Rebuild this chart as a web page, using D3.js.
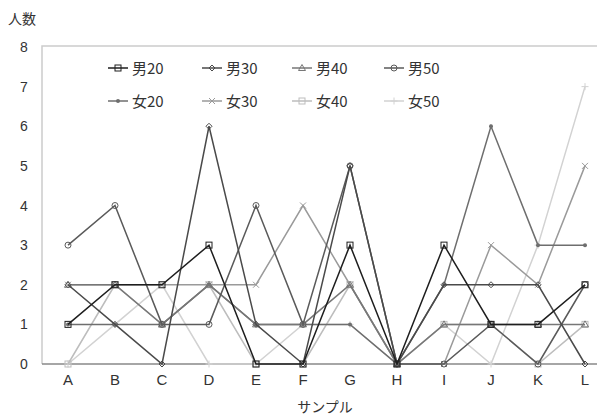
<!DOCTYPE html>
<html>
<head>
<meta charset="utf-8">
<script src="https://cdn.jsdelivr.net/npm/d3@7"></script>
<style>
  body { margin:0; background:#fff; }
  text { font-family: "Liberation Sans", "Noto Sans CJK JP", sans-serif; fill:#333; }
</style>
</head>
<body>
<div class="c_chart"></div>
<script>
/*DATA
------------------------------------------------------
*/
const categories = ["A","B","C","D","E","F","G","H","I","J","K","L"];
const seriesNames = ["男20","男30","男40","男50","女20","女30","女40","女50"];
const male20   = [1,2,2,3,0,0,3,0,3,1,1,2];
const male30   = [2,1,0,6,1,0,5,0,2,2,2,0];
const male40   = [2,2,1,2,1,1,2,0,1,1,1,1];
const male50   = [3,4,1,1,4,1,5,0,0,1,0,2];
const female20 = [1,1,1,2,1,1,1,0,2,6,3,3];
const female30 = [2,2,2,2,2,4,2,0,0,3,2,5];
const female40 = [0,2,1,2,0,0,2,0,1,1,0,1];
const female50 = [0,1,2,0,0,1,1,0,1,0,3,7];
const yTicks = [0,1,2,3,4,5,6,7,8];

const seriesValues = [male20, male30, male40, male50, female20, female30, female40, female50];
const colors = ["#1e1e1e","#4a4a4a","#777","#5a5a5a","#6e6e6e","#9a9a9a","#bdbdbd","#d2d2d2"];
const markers = ["square","diamond","triangle","circle","dot","cross","square","plus"];

/*DIMENSIONS
------------------------------------------------------
*/
const width = 597, height = 416;

const svg = d3.select(".c_chart").append("svg")
	.attr("width", width)
	.attr("height", height);

const x = d3.scalePoint().domain(categories).range([68, 585]);
const y = d3.scaleLinear().domain([0, 8]).range([364, 47]);

/*FRAME & AXES
------------------------------------------------------
*/
svg.append("path")
	.attr("d", "M42,364 V46 H597")
	.attr("fill", "none")
	.attr("stroke", "#ccc")
	.attr("stroke-width", 1.5);

svg.append("line")
	.attr("x1", 42).attr("x2", 597)
	.attr("y1", y(0)).attr("y2", y(0))
	.attr("stroke", "#888")
	.attr("stroke-width", 1.5);

svg.selectAll(".ytick")
	.data(yTicks)
	.enter()
	.append("text")
	.attr("class", "ytick")
	.attr("x", 24)
	.attr("y", d => y(d) + 5)
	.attr("text-anchor", "middle")
	.attr("font-size", 14)
	.text(d => d);

svg.selectAll(".xtick")
	.data(categories)
	.enter()
	.append("text")
	.attr("class", "xtick")
	.attr("x", d => x(d))
	.attr("y", 385)
	.attr("text-anchor", "middle")
	.attr("font-size", 15)
	.text(d => d);

svg.append("text")
	.attr("x", 8).attr("y", 24)
	.attr("font-size", 14)
	.style("font-family", "'Noto Sans CJK JP'")
	.text("人数");

svg.append("text")
	.attr("x", 325).attr("y", 412)
	.attr("text-anchor", "middle")
	.attr("font-size", 14)
	.style("font-family", "'Noto Sans CJK JP'")
	.text("サンプル");

/*MARKERS
------------------------------------------------------
*/
function drawMarker(g, type, cx, cy, color) {
	if (type === "square") {
		g.append("rect").attr("x", cx-3).attr("y", cy-3).attr("width", 6).attr("height", 6)
			.attr("fill", "none").attr("stroke", color).attr("stroke-width", 1);
	} else if (type === "diamond") {
		g.append("path").attr("d", `M${cx},${cy-3}L${cx+3},${cy}L${cx},${cy+3}L${cx-3},${cy}Z`)
			.attr("fill", "none").attr("stroke", color).attr("stroke-width", 1);
	} else if (type === "triangle") {
		g.append("path").attr("d", `M${cx},${cy-3.5}L${cx+3.5},${cy+2.5}L${cx-3.5},${cy+2.5}Z`)
			.attr("fill", "none").attr("stroke", color).attr("stroke-width", 1);
	} else if (type === "circle") {
		g.append("circle").attr("cx", cx).attr("cy", cy).attr("r", 3)
			.attr("fill", "none").attr("stroke", color).attr("stroke-width", 1);
	} else if (type === "dot") {
		g.append("circle").attr("cx", cx).attr("cy", cy).attr("r", 2).attr("fill", color);
	} else if (type === "cross") {
		g.append("path").attr("d", `M${cx-3},${cy-3}L${cx+3},${cy+3}M${cx-3},${cy+3}L${cx+3},${cy-3}`)
			.attr("stroke", color).attr("stroke-width", 1);
	} else if (type === "plus") {
		g.append("path").attr("d", `M${cx-3.5},${cy}H${cx+3.5}M${cx},${cy-3.5}V${cy+3.5}`)
			.attr("stroke", color).attr("stroke-width", 1);
	}
}

/*LINES (lightest drawn first)
------------------------------------------------------
*/
const line = d3.line()
	.x((d, i) => x(categories[i]))
	.y(d => y(d));

const order = [7,6,5,4,2,3,1,0];
order.forEach(function(s){
	const g = svg.append("g");
	g.append("path")
		.datum(seriesValues[s])
		.attr("d", line)
		.attr("fill", "none")
		.attr("stroke", colors[s])
		.attr("stroke-width", 1.5);
	seriesValues[s].forEach(function(v, i){
		drawMarker(g, markers[s], x(categories[i]), y(v), colors[s]);
	});
});

/*LEGEND
------------------------------------------------------
*/
const legX = [108, 202, 292, 384];
const legY = [68, 101];
seriesNames.forEach(function(name, i){
	const lx = legX[i % 4], ly = legY[Math.floor(i / 4)];
	const g = svg.append("g");
	g.append("rect").attr("x", lx - 4).attr("y", ly - 12).attr("width", 80).attr("height", 24).attr("fill", "#fff");
	g.append("line")
		.attr("x1", lx).attr("x2", lx + 20)
		.attr("y1", ly).attr("y2", ly)
		.attr("stroke", colors[i]).attr("stroke-width", 1.5);
	drawMarker(g, markers[i], lx + 10, ly, colors[i]);
	g.append("text")
		.attr("x", lx + 24).attr("y", ly + 6)
		.attr("font-size", 15)
		.style("font-family", "'Noto Sans CJK JP'")
		.text(name);
});
</script>
</body>
</html>
